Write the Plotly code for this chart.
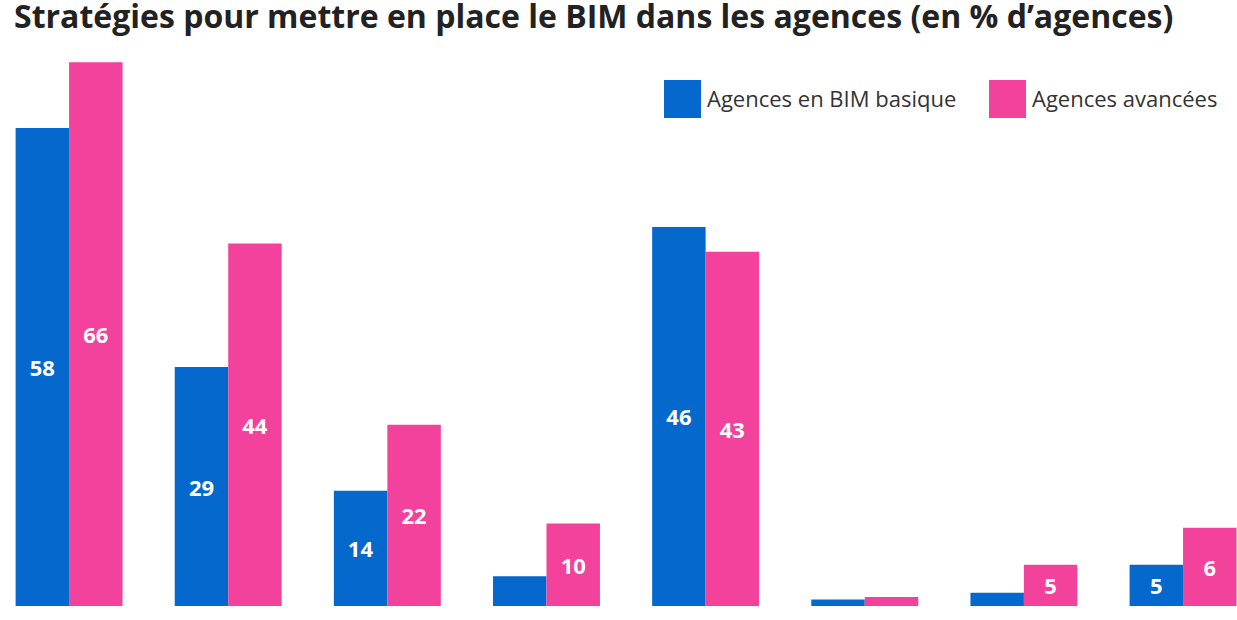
import plotly.graph_objects as go

# Données (libellés de l'axe X coupés dans l'original)
categories = ["1", "2", "3", "4", "5", "6", "7", "8"]
basique = [58, 29, 14, 3.6, 46, 0.8, 1.6, 5]
basique_labels = ["58", "29", "14", "", "46", "", "", "5"]
avancees = [66, 44, 22, 10, 43, 1.1, 5, 9.5]
avancees_labels = ["66", "44", "22", "10", "43", "", "5", "6"]

BLUE = "#0568cd"
PINK = "#f3429b"

W, H = 1237, 620
PLOT_H = 556
BASE = 606  # ligne de base des barres (px)

fig = go.Figure()
fig.add_trace(go.Bar(
    x=categories, y=basique, name="Agences en BIM basique",
    marker_color=BLUE, marker_line_width=0,
    text=basique_labels, textposition="inside", insidetextanchor="middle",
    textangle=0, textfont=dict(color="white", size=22, family="Open Sans", weight="bold"),
))
fig.add_trace(go.Bar(
    x=categories, y=avancees, name="Agences avancées",
    marker_color=PINK, marker_line_width=0,
    text=avancees_labels, textposition="inside", insidetextanchor="middle",
    textangle=0, textfont=dict(color="white", size=22, family="Open Sans", weight="bold"),
))

# légende dessinée à la main (grands carrés)
legend_items = [("Agences en BIM basique", BLUE, 664), ("Agences avancées", PINK, 989)]
for label, color, x0 in legend_items:
    fig.add_shape(type="rect", xref="paper", yref="paper",
                  x0=x0 / W, x1=(x0 + 37) / W,
                  y0=(BASE - 118) / PLOT_H, y1=(BASE - 80) / PLOT_H,
                  fillcolor=color, line_width=0)
    fig.add_annotation(text=label, xref="paper", yref="paper",
                       x=(x0 + 41) / W, y=(BASE - 98) / PLOT_H,
                       xanchor="left", yanchor="middle", showarrow=False,
                       font=dict(size=22, color="#333333", family="Open Sans"))

fig.update_layout(
    width=W, height=H,
    margin=dict(l=0, r=0, t=BASE - PLOT_H, b=H - BASE),
    barmode="group", bargap=0.328, bargroupgap=0,
    showlegend=False,
    plot_bgcolor="white", paper_bgcolor="white",
    font=dict(family="Open Sans", color="#222222"),
    uniformtext=dict(mode="show", minsize=10),
    title=dict(
        text="<b>Stratégies pour mettre en place le BIM dans les agences (en % d’agences)</b>",
        x=14 / W, xanchor="left", xref="container",
        y=1 - 17 / H, yanchor="middle", yref="container",
        font=dict(size=32, color="#222222", family="Open Sans"),
    ),
)
fig.update_xaxes(range=[-0.434, 7.339], showticklabels=False, showgrid=False,
                 zeroline=False, showline=False, ticks="")
fig.update_yaxes(range=[0, PLOT_H / 8.24], showticklabels=False, showgrid=False,
                 zeroline=False, showline=False)

# supprime la marge par défaut du <body>
fig.write_html("out.html", config={"displayModeBar": False},
               post_script="document.body.style.margin='0';")
